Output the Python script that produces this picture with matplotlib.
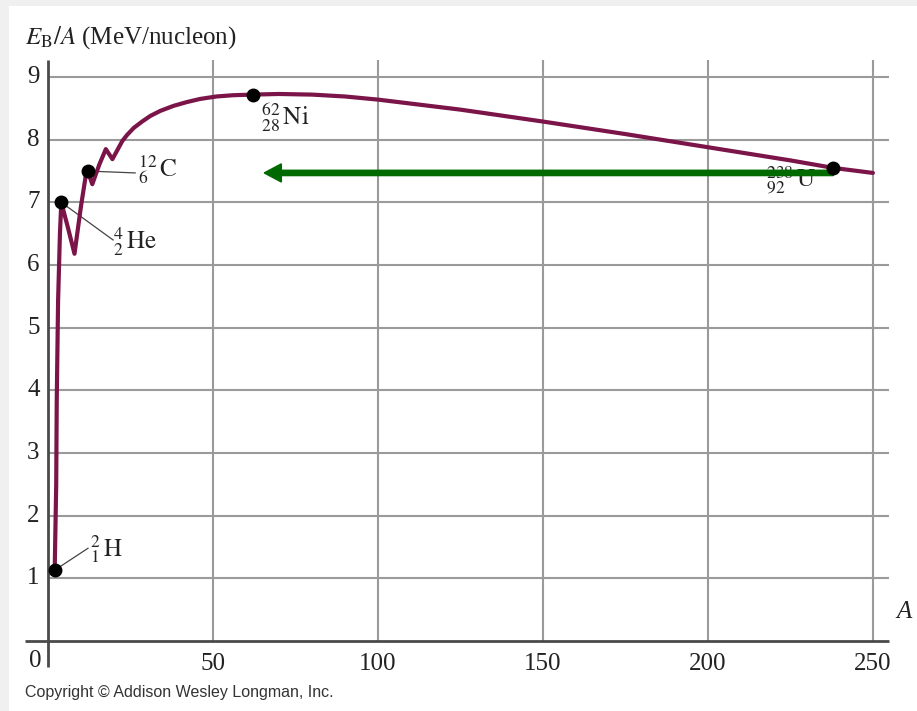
import matplotlib
matplotlib.use("Agg")
import matplotlib.pyplot as plt
from matplotlib.patches import Rectangle

plt.rcParams['font.family'] = ['Liberation Serif', 'DejaVu Serif']
plt.rcParams['mathtext.fontset'] = 'stix'

# binding energy per nucleon vs mass number
mass_number = [2, 2.46, 2.62, 3.03, 3.59, 4, 6, 8, 10, 11.4, 12, 13.4, 15.5, 17.5,
               19.5, 22.5, 24, 26, 28.5, 31, 34, 38, 42, 46, 51, 56, 62, 70, 80, 90,
               100, 125, 150, 175, 200, 225, 238, 250]
eb_per_a = [1.13, 2.5, 3.84, 5.43, 6.5, 7.0, 6.6, 6.18, 6.95, 7.42, 7.5, 7.29, 7.6, 7.85,
            7.69, 7.98, 8.08, 8.19, 8.29, 8.38, 8.46, 8.54, 8.60, 8.65, 8.69, 8.71, 8.72,
            8.73, 8.72, 8.69, 8.64, 8.48, 8.29, 8.09, 7.88, 7.67, 7.55, 7.47]

# marked nuclides: (A, E_B/A, label)
nuc_a = [2, 4, 12, 62, 238]
nuc_e = [1.13, 7.0, 7.5, 8.72, 7.55]
nuc_labels = [r'${}^{2}_{1}\,\mathrm{H}$', r'${}^{4}_{2}\,\mathrm{He}$', r'${}^{12}_{6}\,\mathrm{C}$',
              r'${}^{62}_{28}\,\mathrm{Ni}$', r'${}^{238}_{92}\,\mathrm{U}$']
label_pos = [(12.7, 1.47), (19.8, 6.38), (27.3, 7.52), (64.5, 8.36), (217.5, 7.36)]
leader_end = [(12.1, 1.48), (19.7, 6.40), (26.4, 7.47), None, None]

x_ticks = [50, 100, 150, 200, 250]
y_ticks = [1, 2, 3, 4, 5, 6, 7, 8, 9]

# fission arrow from uranium towards the iron/nickel peak
arrow_start = 238
arrow_end = 65.5
arrow_level = 7.47

W, H = 917, 711
fig = plt.figure(figsize=(W / 100, H / 100), dpi=100, facecolor='#f0f0f0')
fig.patches.append(Rectangle((9 / W, 0), 1, 1 - 6 / H, transform=fig.transFigure,
                             facecolor='white', edgecolor='none', zorder=-10))

ax = fig.add_axes([25 / W, (H - 700.5) / H, 871 / W, (700.5 - 52) / H])
ax.set_xlim(-7, 257)
ax.set_ylim(-0.95, 9.4)
ax.axis('off')

grid_col = '#9a9a9a'
ax.hlines(y_ticks, 0, 255, color=grid_col, lw=1.5, zorder=1)
ax.vlines(x_ticks, 0, 9.27, color=grid_col, lw=1.5, zorder=1)
ax.hlines(0, -7, 255, color='#4a4a4a', lw=2.0, zorder=2)
ax.vlines(0, -0.42, 9.27, color='#4a4a4a', lw=2.0, zorder=2)

for y in y_ticks:
    ax.text(-2.6, y, str(y), ha='right', va='center', fontsize=18, color='#222')
for x in x_ticks:
    ax.text(x, -0.36, str(x), ha='center', va='center', fontsize=18, color='#222')
ax.text(-3.8, -0.32, '0', ha='center', va='center', fontsize=18, color='#222')
ax.text(259.5, 0.46, 'A', ha='center', va='center', fontsize=18, style='italic', color='#222',
        clip_on=False)

ax.plot(mass_number, eb_per_a, color='#7b1448', lw=3.0, solid_joinstyle='round',
        solid_capstyle='round', zorder=4)

for (a, e, lab, pos, lead) in zip(nuc_a, nuc_e, nuc_labels, label_pos, leader_end):
    if lead is not None:
        ax.plot([a, lead[0]], [e, lead[1]], color='#444', lw=0.9, zorder=3)
    ax.text(pos[0], pos[1], lab, ha='left', va='center', fontsize=18, color='#222', zorder=3)

ax.arrow(arrow_start, arrow_level, arrow_end - arrow_start, 0, width=0.085, head_width=0.29,
         head_length=5.2, length_includes_head=True, color='#006a00', zorder=5)

ax.plot(nuc_a, nuc_e, 'o', color='black', ms=9, zorder=6)

fig.text(25 / W, 1 - 38 / H, r'$E_\mathrm{B}/A$ (MeV/nucleon)', ha='left', va='center',
         fontsize=18, color='#222')
fig.text(25 / W, 1 - 693 / H, 'Copyright \u00a9 Addison Wesley Longman, Inc.',
         family='Liberation Sans', fontsize=11.5, ha='left', va='center', color='#333')

fig.savefig('out.png', dpi=100, facecolor=fig.get_facecolor())
